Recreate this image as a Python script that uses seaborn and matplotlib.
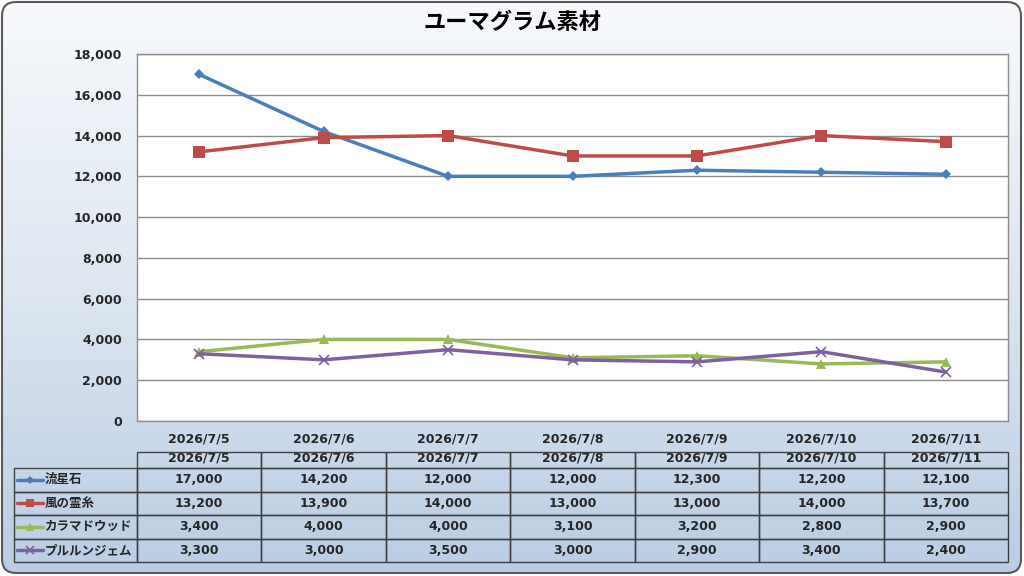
import numpy as np
import pandas as pd
import matplotlib
matplotlib.use("Agg")
import matplotlib.pyplot as plt
import seaborn as sns
from matplotlib.patches import FancyBboxPatch, Rectangle
from matplotlib.lines import Line2D
from matplotlib.colors import LinearSegmentedColormap

title = "ユーマグラム素材"
dates = ["2026/7/5", "2026/7/6", "2026/7/7", "2026/7/8", "2026/7/9", "2026/7/10", "2026/7/11"]
series_names = ["流星石", "風の霊糸", "カラマドウッド", "プルルンジェム"]
ryuseiseki = [17000, 14200, 12000, 12000, 12300, 12200, 12100]
kaze_no_reishi = [13200, 13900, 14000, 13000, 13000, 14000, 13700]
karama_wood = [3400, 4000, 4000, 3100, 3200, 2800, 2900]
pururun_gem = [3300, 3000, 3500, 3000, 2900, 3400, 2400]
y_ticks = [0, 2000, 4000, 6000, 8000, 10000, 12000, 14000, 16000, 18000]

values = [ryuseiseki, kaze_no_reishi, karama_wood, pururun_gem]
colors = ["#4a7ebb", "#be4b48", "#98b954", "#7d60a0"]
markers = ["D", "s", "^", "x"]
msizes = [5, 8, 7, 7]

sns.set_theme(style="white")
FONT = ["Noto Sans CJK JP", "DejaVu Sans"]
NUMFONT = ["DejaVu Sans", "Noto Sans CJK JP"]
plt.rcParams["font.family"] = FONT

W, H = 1024, 576
fig = plt.figure(figsize=(W / 100, H / 100), dpi=100)

# background axes in pixel coordinates
bg = fig.add_axes([0, 0, 1, 1])
bg.set_xlim(0, W)
bg.set_ylim(H, 0)
bg.axis("off")
bg.set_zorder(0)
grad = np.linspace(0, 1, 256).reshape(-1, 1)
cmap = LinearSegmentedColormap.from_list("bg", ["#f7f9fc", "#dde6f1", "#b9cde5"])
im = bg.imshow(grad, extent=[0, W, H, 0], aspect="auto", cmap=cmap, zorder=0)
frame = FancyBboxPatch((2, 2), W - 5, H - 5, boxstyle="round,pad=0,rounding_size=14",
                       facecolor="none", edgecolor="#595959", linewidth=1.5, zorder=2)
bg.add_patch(frame)
im.set_clip_path(frame)

bg.text(512, 22, title, ha="center", va="center", fontsize=16, fontweight="bold",
        color="#000000", family=FONT)

# plot axes
L, R, T, B = 137, 1008, 54, 421
ax = fig.add_axes([L / W, 1 - B / H, (R - L) / W, (B - T) / H])
ax.set_zorder(1)
ax.set_facecolor("white")

rows = []
for name, vals in zip(series_names, values):
    for i, v in enumerate(vals):
        rows.append({"series": name, "idx": i, "value": v})
df = pd.DataFrame(rows)

for name, c, m, ms in zip(series_names, colors, markers, msizes):
    sub = df[df["series"] == name]
    sns.lineplot(data=sub, x="idx", y="value", ax=ax, color=c, linewidth=2.5,
                 marker=m, markersize=ms, markeredgecolor=c,
                 markeredgewidth=1.2 if m == "x" else 0, legend=False)

ax.set_xlim(-0.5, len(dates) - 0.5)
ax.set_ylim(0, 18000)
ax.set_yticks(y_ticks)
ax.set_yticklabels([f"{v:,}" for v in y_ticks], fontsize=9, fontweight="bold", family=NUMFONT)
ax.set_xticks(range(len(dates)))
ax.set_xticklabels(dates, fontsize=9, fontweight="bold", family=NUMFONT)
ax.tick_params(axis="y", length=0, pad=11)
ax.tick_params(axis="x", length=0, pad=8)
ax.set_xlabel("")
ax.set_ylabel("")
ax.yaxis.grid(True, color="#8c8c8c", linewidth=1)
ax.xaxis.grid(False)
ax.set_axisbelow(True)
for s in ax.spines.values():
    s.set_color("#8c8c8c")
    s.set_linewidth(1)

# data table drawn in pixel coords
tab = fig.add_axes([0, 0, 1, 1])
tab.set_xlim(0, W)
tab.set_ylim(H, 0)
tab.axis("off")
tab.set_zorder(3)
tab.patch.set_alpha(0)

colw = (R - L) / len(dates)
hdr_top, hdr_bot = 452, 468
row_h = 23.5
lc = "#404040"
for i, d in enumerate(dates):
    x0 = L + i * colw
    tab.add_patch(Rectangle((x0, hdr_top), colw, hdr_bot - hdr_top, fill=False,
                            edgecolor=lc, linewidth=1))
    tab.text(x0 + colw / 2, hdr_top + 6, d, ha="center", va="center", fontsize=9,
             fontweight="bold", family=NUMFONT)
for r, (name, vals, c, m, ms) in enumerate(zip(series_names, values, colors, markers, msizes)):
    y0 = hdr_bot + r * row_h
    tab.add_patch(Rectangle((14, y0), L - 14, row_h, fill=False, edgecolor=lc, linewidth=1))
    yc = y0 + row_h / 2
    tab.add_line(Line2D([17, 43], [yc, yc], color=c, linewidth=2.5))
    tab.add_line(Line2D([30], [yc], color=c, marker=m, markersize=ms * 0.8,
                        markeredgecolor=c, markeredgewidth=1.2 if m == "x" else 0))
    tab.text(45, yc, name, ha="left", va="center", fontsize=9, fontweight="bold", family=FONT)
    for i, v in enumerate(vals):
        x0 = L + i * colw
        tab.add_patch(Rectangle((x0, y0), colw, row_h, fill=False, edgecolor=lc, linewidth=1))
        tab.text(x0 + colw / 2, yc, f"{v:,}", ha="center", va="center", fontsize=9,
                 fontweight="bold", family=NUMFONT)

fig.savefig("out.png", dpi=100)
